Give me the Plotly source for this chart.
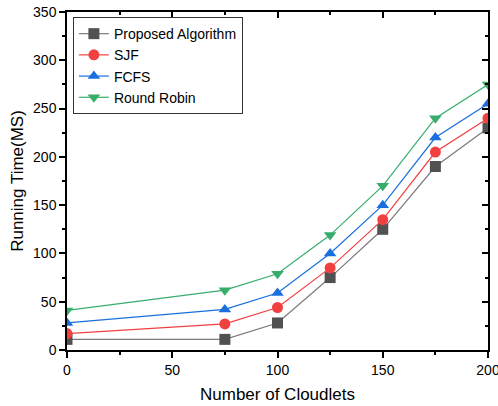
import plotly.graph_objects as go

cloudlets = [0, 75, 100, 125, 150, 175, 200]
proposed = [11, 11, 28, 75, 125, 190, 230]
sjf = [17, 27, 44, 85, 135, 205, 240]
fcfs = [28, 42, 59, 100, 150, 220, 255]
round_robin = [41, 62, 79, 119, 170, 240, 275]

series = [
    ("Proposed Algorithm", proposed, "#515151", "#7a7a7a", "square"),
    ("SJF", sjf, "#F14040", "#F14040", "circle"),
    ("FCFS", fcfs, "#1A6FDF", "#1A6FDF", "triangle-up"),
    ("Round Robin", round_robin, "#37AD6B", "#37AD6B", "triangle-down"),
]

fig = go.Figure()
for name, vals, mc, lc, sym in series:
    fig.add_trace(go.Scatter(
        x=cloudlets, y=vals, name=name, mode="lines+markers",
        line=dict(color=lc, width=1.2),
        marker=dict(color=mc, symbol=sym, size=11, line=dict(width=0)),
        cliponaxis=True,
    ))

# invisible trace for mirrored axes
fig.add_trace(go.Scatter(x=[0], y=[0], xaxis="x2", yaxis="y2", mode="markers",
                         marker=dict(opacity=0), showlegend=False, hoverinfo="skip"))

font = "Arial, Liberation Sans, sans-serif"
fig.update_layout(
    width=498, height=406,
    margin=dict(l=67, r=10, t=12, b=56),
    paper_bgcolor="white", plot_bgcolor="white",
    font=dict(family=font, size=14, color="black"),
    showlegend=True,
    legend=dict(x=0.014, y=0.985, xanchor="left", yanchor="top",
                bgcolor="white", bordercolor="#333333", borderwidth=1,
                font=dict(size=14), tracegroupgap=0, itemwidth=30),
    xaxis=dict(range=[0, 200], dtick=50, tick0=0, showgrid=False, zeroline=False,
               showline=True, linecolor="black", linewidth=1.5,
               ticks="outside", ticklen=6, tickwidth=1.5, tickcolor="black",
               minor=dict(ticks="outside", dtick=25, ticklen=3, tickwidth=1.5, tickcolor="black"),
               title=dict(text="Number of Cloudlets", font=dict(size=17), standoff=12),
               ticklabeloverflow="allow", automargin=False),
    yaxis=dict(range=[0, 350], dtick=50, tick0=0, showgrid=False, zeroline=False,
               showline=True, linecolor="black", linewidth=1.5,
               ticks="outside", ticklen=6, tickwidth=1.5, tickcolor="black",
               minor=dict(ticks="outside", dtick=25, ticklen=3, tickwidth=1.5, tickcolor="black"),
               title=dict(text="Running Time(MS)", font=dict(size=17), standoff=5),
               ticklabeloverflow="allow", automargin=False),
    xaxis2=dict(range=[0, 200], dtick=50, overlaying="x", side="top", showgrid=False,
                zeroline=False, showline=True, linecolor="black", linewidth=1.5,
                ticks="inside", ticklen=6, tickwidth=1.5, tickcolor="black",
                minor=dict(ticks="inside", dtick=25, ticklen=3, tickwidth=1.5, tickcolor="black"),
                showticklabels=False, automargin=False),
    yaxis2=dict(range=[0, 350], dtick=50, overlaying="y", side="right", showgrid=False,
                zeroline=False, showline=True, linecolor="black", linewidth=1.5,
                ticks="inside", ticklen=6, tickwidth=1.5, tickcolor="black",
                minor=dict(ticks="inside", dtick=25, ticklen=3, tickwidth=1.5, tickcolor="black"),
                showticklabels=False, automargin=False),
)

fig.write_html("out.html", config={"displayModeBar": False},
               post_script="document.body.style.margin='0';document.body.style.overflow='hidden';")
